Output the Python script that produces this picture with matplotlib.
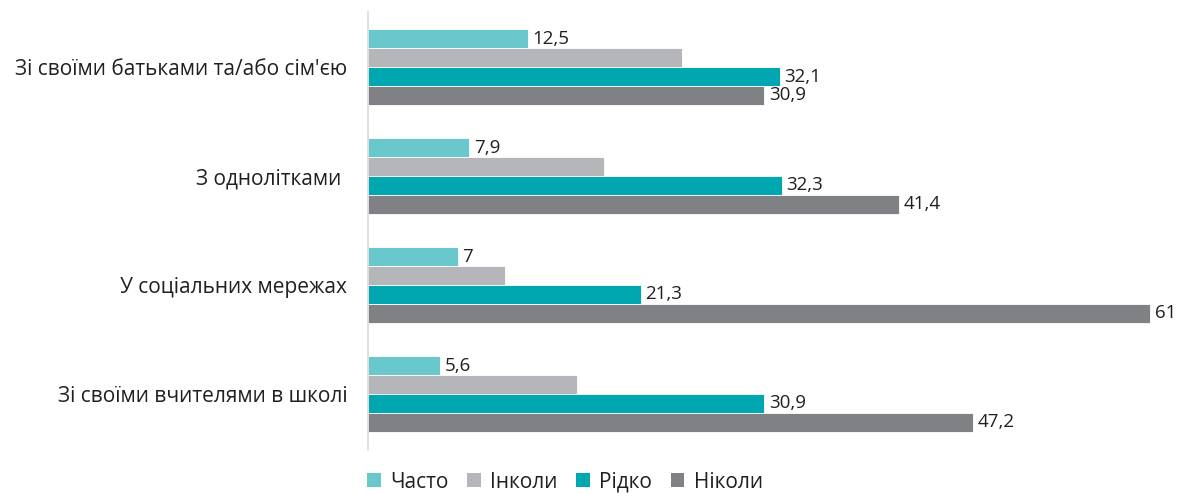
import numpy as np
import matplotlib.pyplot as plt
from matplotlib.patches import Patch

plt.rcParams['font.family'] = ['Open Sans', 'DejaVu Sans']

categories = ["Зі своїми батьками та/або сім'єю", "З однолітками ", "У соціальних мережах", "Зі своїми вчителями в школі"]
series_names = ["Часто", "Інколи", "Рідко", "Ніколи"]
often = [12.5, 7.9, 7.0, 5.6]
sometimes = [24.5, 18.4, 10.7, 16.3]
rarely = [32.1, 32.3, 21.3, 30.9]
never = [30.9, 41.4, 61.0, 47.2]
labels_often = ["12,5", "7,9", "7", "5,6"]
labels_rarely = ["32,1", "32,3", "21,3", "30,9"]
labels_never = ["30,9", "41,4", "61", "47,2"]

colors = ['#68C8CC', '#B5B6BA', '#00A7B0', '#808185']

fig = plt.figure(figsize=(11.78, 4.93), dpi=100)
ax = fig.add_axes([368/1178, 43/493, 795/1178, 438/493])

y = np.arange(len(categories))
h = 0.174
data = [often, sometimes, rarely, never]
labels = [labels_often, None, labels_rarely, labels_never]
for k in range(4):
    pos = y + (k - 1.5) * h
    ax.barh(pos, data[k], height=h, color=colors[k], edgecolor='white', linewidth=0.6)
    if labels[k] is not None:
        for p, v, t in zip(pos, data[k], labels[k]):
            ax.text(v + 0.35, p, t, va='center', ha='left', fontsize=13.5, color='#231F20', clip_on=False)

ax.set_xlim(0, 62)
ax.set_ylim(3.514, -0.505)
ax.set_yticks(y)
ax.set_yticklabels(categories, fontsize=15, color='#231F20')
ax.tick_params(axis='y', length=0, pad=15)
ax.set_xticks([])
for s in ['top', 'right', 'bottom']:
    ax.spines[s].set_visible(False)
ax.spines['left'].set_color('#D9D9D9')
ax.spines['left'].set_linewidth(1.2)

handles = [Patch(facecolor=c, edgecolor='none') for c in colors]
fig.legend(handles, series_names, loc='center', bbox_to_anchor=(565/1178, 1 - 482/493),
           ncol=4, frameon=False, fontsize=15, handlelength=0.65, handleheight=0.65,
           handletextpad=0.45, columnspacing=0.9, labelcolor='#231F20')

fig.savefig('out.png', dpi=100)
